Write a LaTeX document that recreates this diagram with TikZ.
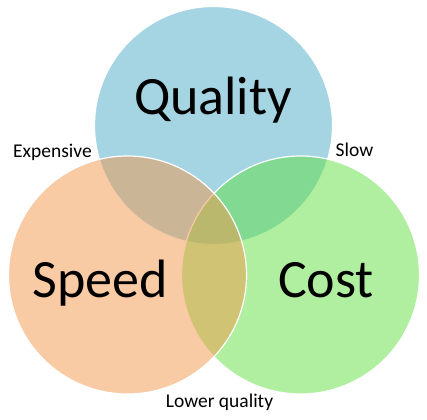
\documentclass[tikz,border=0pt]{standalone}
\usepackage{fontspec}
\setmainfont{Carlito}
\definecolor{qualityblue}{RGB}{75,171,197}
\definecolor{costgreen}{RGB}{97,223,65}
\definecolor{speedorange}{RGB}{241,151,75}
\begin{document}
\begin{tikzpicture}[x=1pt, y=1pt,
    venn/.style={draw=white, line width=1.2pt, fill opacity=0.5},
    biglabel/.style={font=\fontsize{54}{60}\selectfont, anchor=base, inner sep=0pt},
    smalllabel/.style={font=\fontsize{19.5}{22}\selectfont, anchor=base, inner sep=0pt}]
    \useasboundingbox (0,0) rectangle (427,419);
    \draw[venn, fill=qualityblue] (213.5,293.5) circle (119);
    \draw[venn, fill=costgreen] (300.5,144) circle (119);
    \draw[venn, fill=speedorange] (127.5,144) circle (119);
    \node[biglabel] (quality) at (213,304) {Quality};
    \node[biglabel] (speed) at (100,121) {Speed};
    \node[biglabel] (cost) at (326,121) {Cost};
    \node[smalllabel] (expensive) at (52.5,261.5) {Expensive};
    \node[smalllabel] (slow) at (354.5,262.5) {Slow};
    \node[smalllabel] (lowerquality) at (219.5,11) {Lower quality};
\end{tikzpicture}
\end{document}
